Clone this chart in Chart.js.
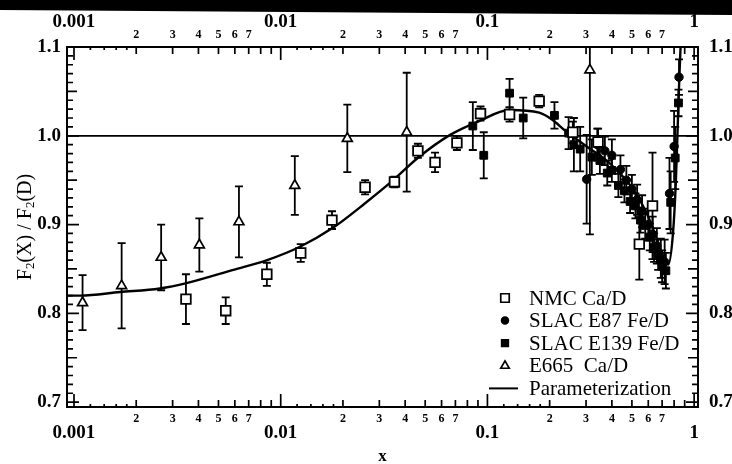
<!DOCTYPE html>
<html>
<head>
<meta charset="utf-8">
<title>F2(X)/F2(D)</title>
<script src="https://cdn.jsdelivr.net/npm/chart.js@4.4.1/dist/chart.umd.min.js"></script>
<style>
  html, body { margin: 0; padding: 0; background: #fff; }
  #wrap { position: relative; width: 732px; height: 464px; overflow: hidden; }
  #edge { position: absolute; left: 0; top: 0; width: 732px; height: 16px; background: #000;
          clip-path: polygon(0 0, 100% 0, 100% 15px, 0 10px); }
</style>
</head>
<body>
<div id="wrap">
  <canvas id="ratioChart" width="732" height="464"></canvas>
  <div id="edge"></div>
</div>
<script>
// NMC Ca/D
const nmcX   = [0.00348, 0.00542, 0.00857, 0.0125, 0.0177, 0.0256, 0.0355, 0.0461, 0.0558, 0.0712, 0.0926, 0.128, 0.178, 0.259, 0.343, 0.543, 0.629];
const nmcY   = [0.816, 0.803, 0.844, 0.868, 0.905, 0.942, 0.948, 0.983, 0.970, 0.992, 1.025, 1.024, 1.039, 1.004, 0.993, 0.878, 0.921];
const nmcErr = [0.028, 0.015, 0.013, 0.010, 0.010, 0.008, 0.006, 0.008, 0.011, 0.008, 0.008, 0.008, 0.007, 0.012, 0.015, 0.040, 0.060];

// SLAC E87 Fe/D
const e87X   = [0.302, 0.34, 0.37, 0.40, 0.44, 0.47, 0.50, 0.53, 0.56, 0.60, 0.63, 0.66, 0.69, 0.72, 0.76, 0.80, 0.845];
const e87Y   = [0.951, 0.990, 0.983, 0.978, 0.962, 0.950, 0.940, 0.928, 0.915, 0.900, 0.889, 0.876, 0.862, 0.858, 0.935, 0.988, 1.066];
const e87Err = [0.050, 0.018, 0.016, 0.018, 0.016, 0.016, 0.016, 0.017, 0.018, 0.018, 0.020, 0.020, 0.022, 0.025, 0.040, 0.040, 0.020];

// SLAC E139 Fe/D
const e139X   = [0.085, 0.096, 0.128, 0.149, 0.211, 0.247, 0.262, 0.281, 0.32, 0.35, 0.38, 0.40, 0.43, 0.46, 0.49, 0.52, 0.55, 0.58, 0.61, 0.64, 0.67, 0.70, 0.73, 0.77, 0.81, 0.84];
const e139Y   = [1.011, 0.978, 1.048, 1.020, 1.023, 1.003, 0.990, 0.985, 0.976, 0.972, 0.958, 0.961, 0.944, 0.938, 0.926, 0.921, 0.905, 0.899, 0.886, 0.874, 0.866, 0.853, 0.848, 0.925, 0.975, 1.037];
const e139Err = [0.027, 0.026, 0.016, 0.023, 0.015, 0.018, 0.030, 0.025, 0.020, 0.015, 0.014, 0.013, 0.013, 0.013, 0.013, 0.014, 0.014, 0.015, 0.015, 0.016, 0.017, 0.018, 0.020, 0.035, 0.035, 0.015];

// E665 Ca/D
const e665X   = [0.00110, 0.00170, 0.00264, 0.00404, 0.00628, 0.0117, 0.0210, 0.0407, 0.313];
const e665Y   = [0.812, 0.831, 0.863, 0.877, 0.903, 0.944, 0.997, 1.004, 1.074];
const e665Err = [0.031, 0.048, 0.037, 0.030, 0.040, 0.033, 0.038, 0.067, 0.185];

// parameterization curve
const paramX = [0.00093, 0.00107, 0.00167, 0.0026, 0.0035, 0.0059, 0.0086, 0.0124, 0.0178, 0.0256, 0.035, 0.046, 0.066, 0.09, 0.128, 0.178, 0.206, 0.237, 0.302, 0.399, 0.509, 0.61, 0.68, 0.72, 0.75, 0.79, 0.815, 0.83, 0.848, 0.86];
const paramY = [0.820, 0.820, 0.824, 0.828, 0.834, 0.849, 0.860, 0.875, 0.896, 0.924, 0.950, 0.975, 1.001, 1.016, 1.029, 1.026, 1.018, 1.006, 0.988, 0.967, 0.939, 0.905, 0.875, 0.861, 0.855, 0.890, 0.946, 1.000, 1.066, 1.100];

const legendNames = ['NMC Ca/D', 'SLAC E87 Fe/D', 'SLAC E139 Fe/D', 'E665  Ca/D', 'Parameterization'];

const xMajorTicks  = [0.001, 0.01, 0.1, 1];
const xMajorLabels = ['0.001', '0.01', '0.1', '1'];
const xMinorSteps  = [2, 3, 4, 5, 6, 7];
const xMinorLabels = ['2', '3', '4', '5', '6', '7'];
const yTicks       = [0.7, 0.8, 0.9, 1.0, 1.1];
const yTickLabels  = ['0.7', '0.8', '0.9', '1.0', '1.1'];

const serif = '"Liberation Serif", "Times New Roman", serif';
const pts = (xs, ys) => xs.map((x, i) => ({ x: x, y: ys[i] }));

// unity line and error bars go under the markers
const errorBars = {
  id: 'errorBars',
  beforeDatasetsDraw(chart) {
    const { ctx, chartArea: a, scales: { x, y } } = chart;
    ctx.save();
    ctx.beginPath();
    ctx.rect(a.left, a.top, a.right - a.left, a.bottom - a.top);
    ctx.clip();
    ctx.strokeStyle = '#000';
    ctx.lineWidth = 1.7;
    const one = y.getPixelForValue(1.0);
    ctx.beginPath();
    ctx.moveTo(a.left, one);
    ctx.lineTo(a.right, one);
    ctx.stroke();
    ctx.lineWidth = 1.8;
    chart.data.datasets.forEach(ds => {
      if (!ds.errors) return;
      ds.data.forEach((p, i) => {
        const px = x.getPixelForValue(p.x);
        const hi = y.getPixelForValue(p.y + ds.errors[i]);
        const lo = y.getPixelForValue(p.y - ds.errors[i]);
        ctx.beginPath();
        ctx.moveTo(px, hi); ctx.lineTo(px, lo);
        ctx.moveTo(px - 4, hi); ctx.lineTo(px + 4, hi);
        ctx.moveTo(px - 4, lo); ctx.lineTo(px + 4, lo);
        ctx.stroke();
      });
    });
    ctx.restore();
  }
};

// box, inward ticks, tick labels, titles and the legend
const axesFrame = {
  id: 'axesFrame',
  afterDraw(chart) {
    const { ctx, chartArea: a, scales: { x, y } } = chart;
    ctx.save();
    ctx.strokeStyle = '#000';
    ctx.lineWidth = 2;
    ctx.strokeRect(a.left, a.top, a.right - a.left, a.bottom - a.top);

    ctx.lineWidth = 1.7;
    ctx.beginPath();
    const steps = [1, 1.2, 1.4, 1.6, 1.8, 2, 3, 4, 5, 6, 7, 8, 9];
    xMajorTicks.forEach(base => {
      steps.forEach(m => {
        const v = m * base;
        if (v < x.min || v > x.max) return;
        const len = m === 1 ? 13 : (Number.isInteger(m) ? 7 : 3);
        const px = x.getPixelForValue(v);
        ctx.moveTo(px, a.bottom); ctx.lineTo(px, a.bottom - len);
        ctx.moveTo(px, a.top); ctx.lineTo(px, a.top + len);
      });
    });
    for (let k = 70; k <= 110; k++) {
      const len = k % 10 === 0 ? 12 : (k % 5 === 0 ? 10 : 6);
      const py = y.getPixelForValue(k / 100);
      ctx.moveTo(a.left, py); ctx.lineTo(a.left + len, py);
      ctx.moveTo(a.right, py); ctx.lineTo(a.right - len, py);
    }
    ctx.stroke();

    ctx.fillStyle = '#000';
    ctx.textAlign = 'center';
    ctx.textBaseline = 'middle';
    ctx.font = 'bold 19px ' + serif;
    xMajorTicks.forEach((v, i) => {
      const px = x.getPixelForValue(v);
      ctx.fillText(xMajorLabels[i], px, a.top - 25);
      ctx.fillText(xMajorLabels[i], px, a.bottom + 26);
    });
    ctx.font = 'bold 12px ' + serif;
    xMajorTicks.slice(0, -1).forEach(base => {
      xMinorSteps.forEach((m, j) => {
        const px = x.getPixelForValue(m * base);
        ctx.fillText(xMinorLabels[j], px, a.top - 12);
        ctx.fillText(xMinorLabels[j], px, a.bottom + 12);
      });
    });

    ctx.font = 'bold 19px ' + serif;
    yTicks.forEach((v, i) => {
      const py = y.getPixelForValue(v);
      ctx.textAlign = 'right';
      ctx.fillText(yTickLabels[i], a.left - 6, py);
      ctx.textAlign = 'left';
      ctx.fillText(yTickLabels[i], a.right + 11, py);
    });

    // axis titles
    ctx.textAlign = 'center';
    ctx.font = 'bold 17px ' + serif;
    ctx.fillText('x', (a.left + a.right) / 2, a.bottom + 50);

    const parts = [['F', 20, 0], ['2', 13, 5], ['(X) / F', 20, 0], ['2', 13, 5], ['(D)', 20, 0]];
    let total = 0;
    parts.forEach(p => { ctx.font = p[1] + 'px ' + serif; total += ctx.measureText(p[0]).width; });
    ctx.save();
    ctx.translate(26, (a.top + a.bottom) / 2);
    ctx.rotate(-Math.PI / 2);
    ctx.textAlign = 'left';
    let cx = -total / 2;
    parts.forEach(p => {
      ctx.font = p[1] + 'px ' + serif;
      ctx.fillText(p[0], cx, p[2]);
      cx += ctx.measureText(p[0]).width;
    });
    ctx.restore();

    // legend in the lower right corner
    const lx = a.right - 193, ly = a.bottom - 109, row = 22.6;
    chart.data.datasets.forEach((ds, i) => {
      const cy = ly + i * row;
      ctx.strokeStyle = '#000';
      if (ds.showLine) {
        ctx.lineWidth = 2;
        ctx.beginPath();
        ctx.moveTo(lx - 16, cy); ctx.lineTo(lx + 13, cy);
        ctx.stroke();
      } else {
        ctx.fillStyle = ds.backgroundColor;
        Chart.helpers.drawPoint(ctx, {
          pointStyle: ds.pointStyle, radius: ds.pointRadius - 0.8,
          borderWidth: ds.borderWidth, rotation: 0
        }, lx, cy);
      }
      ctx.fillStyle = '#000';
      ctx.font = '21px ' + serif;
      ctx.textAlign = 'left';
      ctx.fillText(legendNames[i], lx + 24, cy + 1);
    });
    ctx.restore();
  }
};

new Chart(document.getElementById('ratioChart'), {
  type: 'scatter',
  data: {
    datasets: [
      { label: legendNames[0], data: pts(nmcX, nmcY), errors: nmcErr,
        pointStyle: 'rect', pointRadius: 6.8, backgroundColor: '#fff', borderColor: '#000', borderWidth: 1.8 },
      { label: legendNames[1], data: pts(e87X, e87Y), errors: e87Err,
        pointStyle: 'circle', pointRadius: 4.2, backgroundColor: '#000', borderColor: '#000', borderWidth: 1 },
      { label: legendNames[2], data: pts(e139X, e139Y), errors: e139Err,
        pointStyle: 'rect', pointRadius: 5.5, backgroundColor: '#000', borderColor: '#000', borderWidth: 1 },
      { label: legendNames[3], data: pts(e665X, e665Y), errors: e665Err,
        pointStyle: 'triangle', pointRadius: 5.7, backgroundColor: '#fff', borderColor: '#000', borderWidth: 1.7 },
      { label: legendNames[4], data: pts(paramX, paramY), showLine: true,
        pointRadius: 0, borderColor: '#000', borderWidth: 2.4, cubicInterpolationMode: 'monotone' }
    ]
  },
  options: {
    responsive: false,
    animation: false,
    devicePixelRatio: 1,
    layout: { padding: { left: 67, right: 34, top: 47, bottom: 57 } },
    scales: {
      x: { type: 'logarithmic', min: 0.000925, max: 1.044, bounds: 'data', display: false },
      y: { type: 'linear', min: 0.6945, max: 1.1, bounds: 'data', display: false }
    },
    plugins: { legend: { display: false }, tooltip: { enabled: false } }
  },
  plugins: [errorBars, axesFrame]
});
</script>
</body>
</html>
